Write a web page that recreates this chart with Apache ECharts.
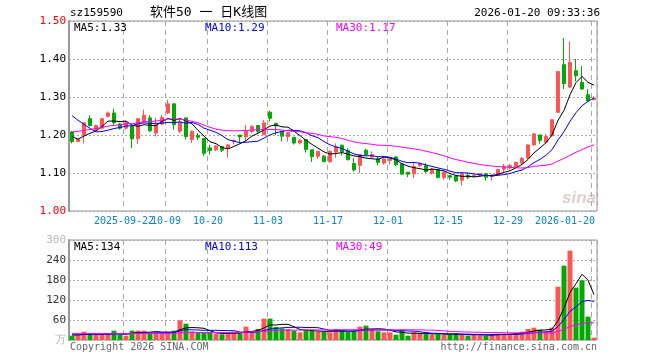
<!DOCTYPE html>
<html><head><meta charset="utf-8">
<script src="https://cdn.jsdelivr.net/npm/echarts@6/dist/echarts.min.js"></script>
<style>html,body{margin:0;padding:0;background:#fff}#c{width:660px;height:360px}</style>
</head><body><div id="c"></div>
<script>
// ---- data ----
const dates = ['2025-09-09','2025-09-10','2025-09-11','2025-09-12','2025-09-15','2025-09-16','2025-09-17','2025-09-18','2025-09-19','2025-09-22',
'2025-09-23','2025-09-24','2025-09-25','2025-09-26','2025-09-29','2025-09-30','2025-10-09','2025-10-10','2025-10-13','2025-10-14',
'2025-10-15','2025-10-16','2025-10-17','2025-10-20','2025-10-21','2025-10-22','2025-10-23','2025-10-24','2025-10-27','2025-10-28',
'2025-10-29','2025-10-30','2025-10-31','2025-11-03','2025-11-04','2025-11-05','2025-11-06','2025-11-07','2025-11-10','2025-11-11',
'2025-11-12','2025-11-13','2025-11-14','2025-11-17','2025-11-18','2025-11-19','2025-11-20','2025-11-21','2025-11-24','2025-11-25',
'2025-11-26','2025-11-27','2025-11-28','2025-12-01','2025-12-02','2025-12-03','2025-12-04','2025-12-05','2025-12-08','2025-12-09',
'2025-12-10','2025-12-11','2025-12-12','2025-12-15','2025-12-16','2025-12-17','2025-12-18','2025-12-19','2025-12-22','2025-12-23',
'2025-12-24','2025-12-25','2025-12-26','2025-12-29','2025-12-30','2025-12-31','2026-01-05','2026-01-06','2026-01-07','2026-01-08',
'2026-01-09','2026-01-12','2026-01-13','2026-01-14','2026-01-15','2026-01-16','2026-01-19','2026-01-20'];
const opens = [1.208,1.183,1.201,1.243,1.212,1.218,1.249,1.258,1.229,1.218, 1.223,1.19,1.234,1.245,1.205,1.229,1.258,1.282,1.21,1.245,
1.188,1.199,1.191,1.166,1.161,1.17,1.166,1.183,1.2,1.195, 1.209,1.225,1.201,1.26,1.23,1.209,1.196,1.194,1.179,1.188,
1.161,1.144,1.144,1.13,1.155,1.173,1.159,1.125,1.12,1.16, 1.142,1.137,1.126,1.133,1.142,1.124,1.102,1.098,1.119,1.119,
1.1,1.109,1.088,1.093,1.092,1.081,1.094,1.091,1.094,1.098, 1.091,1.094,1.11,1.113,1.116,1.126,1.139,1.174,1.2,1.181,
1.198,1.26,1.385,1.326,1.369,1.338,1.306,1.293];
const closes = [1.183,1.188,1.232,1.225,1.225,1.243,1.258,1.232,1.218,1.232, 1.19,1.243,1.252,1.211,1.227,1.246,1.282,1.227,1.234,1.196,
1.21,1.194,1.152,1.159,1.171,1.16,1.174,1.186,1.195,1.21, 1.222,1.21,1.232,1.244,1.224,1.197,1.206,1.179,1.186,1.162,
1.143,1.157,1.13,1.157,1.169,1.156,1.135,1.108,1.148,1.148, 1.148,1.128,1.137,1.137,1.122,1.097,1.097,1.117,1.124,1.104,
1.11,1.088,1.102,1.089,1.079,1.098,1.089,1.094,1.098,1.089, 1.095,1.109,1.117,1.12,1.128,1.139,1.174,1.203,1.186,1.196,
1.24,1.367,1.335,1.391,1.356,1.321,1.29,1.297];
const lows = [1.178,1.181,1.178,1.222,1.21,1.216,1.246,1.227,1.214,1.214, 1.166,1.176,1.231,1.208,1.196,1.226,1.255,1.214,1.205,1.188,
1.179,1.187,1.145,1.148,1.158,1.155,1.141,1.175,1.18,1.185, 1.205,1.205,1.2,1.235,1.2,1.183,1.183,1.175,1.175,1.154,
1.129,1.137,1.128,1.127,1.14,1.146,1.133,1.104,1.1,1.145, 1.139,1.12,1.122,1.122,1.119,1.096,1.089,1.086,1.116,1.1,
1.096,1.086,1.082,1.082,1.076,1.067,1.084,1.088,1.092,1.08, 1.08,1.092,1.099,1.109,1.114,1.124,1.137,1.172,1.177,1.179,
1.196,1.258,1.321,1.324,1.341,1.319,1.288,1.291];
const highs = [1.211,1.19,1.233,1.252,1.227,1.244,1.262,1.269,1.232,1.238, 1.227,1.244,1.267,1.252,1.245,1.253,1.293,1.282,1.245,1.245,
1.212,1.205,1.192,1.174,1.173,1.171,1.176,1.188,1.2,1.226, 1.226,1.226,1.24,1.264,1.233,1.209,1.208,1.194,1.189,1.188,
1.161,1.158,1.147,1.16,1.178,1.175,1.165,1.139,1.15,1.163, 1.157,1.144,1.139,1.139,1.144,1.126,1.102,1.126,1.128,1.126,
1.113,1.109,1.104,1.095,1.092,1.1,1.1,1.096,1.1,1.1, 1.097,1.111,1.124,1.124,1.13,1.142,1.175,1.205,1.2,1.203,
1.242,1.367,1.455,1.446,1.4,1.382,1.321,1.302];
const volumes = [13,13,25,21,16,16,16,28,16,13, 28,28,28,21,21,21,25,28,59,49,
26,21,21,21,19,17,21,25,19,40, 25,33,64,64,39,35,33,28,23,29,
29,25,24,23,33,29,24,26,40,43, 33,26,23,23,16,28,13,23,19,19,
16,19,16,16,19,16,13,16,16,13, 16,19,19,19,21,25,33,37,31,25,
37,160,223,268,157,179,70,7];
// closes / volumes before the visible window, estimated from where the MA lines start
const priorCloses = [1.14,1.15,1.15,1.16,1.15,1.16,1.17,1.16,1.17,1.18,1.17,1.18,1.18,1.19,1.18,1.19,
1.22,1.25,1.27,1.306,1.31,1.34,1.33,1.32,1.23,1.223,1.19,1.19,1.194];
const priorVolumes = [22,18,20,25,17,19,21,16,18,23,20,19,17,22,20,18,21,24,19,20,22,25,21,19,18,16,15,15,16];
const tickDates = ['2025-09-22','2025-10-09','2025-10-20','2025-11-03','2025-11-17','2025-12-01','2025-12-15','2025-12-29','2026-01-20'];
const tickTexts = ['2025-09-22','10-09','10-20','11-03','11-17','12-01','12-15','12-29','2026-01-20'];
const priceAxis = {min: 1.0, max: 1.5, step: 0.1};
const volAxis = {min: 0, max: 300, step: 60};
const priceMaLabels = ['MA5:1.33', 'MA10:1.29', 'MA30:1.17'];
const volMaLabels = ['MA5:134', 'MA10:113', 'MA30:49'];
const code = 'sz159590';
const titleText = '软件50 一 日K线图';
const timeText = '2026-01-20 09:33:36';

// ---- styling ----
const UP = '#ff5555', DOWN = '#00a800';
const MA_COLORS = ['#000000', '#0000ff', '#ff00ff'];
const MONO = '"DejaVu Sans Mono", monospace';

function movingAvg(n, vals, prior) {
  const all = prior.concat(vals);
  return vals.map((_, i) => {
    const end = prior.length + i;
    let s = 0;
    for (let k = end - n + 1; k <= end; k++) s += all[k];
    return +(s / n).toFixed(4);
  });
}
const isTick = (v) => tickDates.indexOf(v) >= 0;

const candleData = dates.map((d, i) => [opens[i], closes[i], lows[i], highs[i]]);
const volData = volumes.map((v, i) => ({value: v, itemStyle: {color: closes[i] >= opens[i] ? UP : DOWN}}));

const dashed = {show: true, interval: (idx, val) => isTick(val), lineStyle: {color: '#aaa', type: [5, 4], width: 1}};
const dotted = {show: true, lineStyle: {color: '#aaa', type: [2, 2], width: 1}};

function maSeries(name, n, vals, prior, color, xi, yi) {
  return {name, type: 'line', xAxisIndex: xi, yAxisIndex: yi, data: movingAvg(n, vals, prior),
    symbol: 'none', smooth: false, lineStyle: {color, width: 1}, z: 5, silent: true};
}

function txt(x, y, text, fill, font, align) {
  return {type: 'text', x, y, z: 100, silent: true,
    style: {text, fill, font, align: align || 'left', verticalAlign: 'middle'}};
}

const chart = echarts.init(document.getElementById('c'), null, {renderer: 'canvas'});
chart.setOption({
  animation: false,
  backgroundColor: '#fff',
  grid: [
    {left: 69, top: 21, width: 528, height: 190, show: true, borderColor: '#999', borderWidth: 1, outerBoundsMode: 'none', containLabel: false},
    {left: 69, top: 240, width: 528, height: 100, show: true, borderColor: '#999', borderWidth: 1, outerBoundsMode: 'none', containLabel: false}
  ],
  xAxis: [
    {type: 'category', gridIndex: 0, data: dates, boundaryGap: true,
     axisLine: {show: false}, axisTick: {show: false}, splitLine: dashed,
     axisLabel: {show: true, interval: 0, margin: 5, hideOverlap: false,
       formatter: (v) => {
         const k = tickDates.indexOf(v);
         if (k < 0) return '';
         return k === tickDates.length - 1 ? '{e|' + tickTexts[k] + '}' : '{n|' + tickTexts[k] + '}';
       },
       rich: {
         n: {color: '#0a84d6', fontFamily: MONO, fontSize: 10, padding: [0, 4, 0, 0]},
         e: {color: '#0a84d6', fontFamily: MONO, fontSize: 10, padding: [0, 58, 0, 0]}
       }}},
    {type: 'category', gridIndex: 1, data: dates, boundaryGap: true,
     axisLine: {show: false}, axisTick: {show: false}, axisLabel: {show: false}, splitLine: dashed}
  ],
  yAxis: [
    {type: 'value', gridIndex: 0, min: priceAxis.min, max: priceAxis.max, interval: priceAxis.step,
     axisLine: {show: true, lineStyle: {color: '#999', width: 2}}, axisTick: {show: false}, splitLine: dotted,
     axisLabel: {margin: 3, fontFamily: MONO, fontSize: 11, showMinLabel: true, showMaxLabel: true,
       formatter: (v) => Number(v).toFixed(2),
       color: (v) => (Math.abs(Number(v) - priceAxis.max) < 1e-6 || Math.abs(Number(v) - priceAxis.min) < 1e-6) ? '#ff0000' : '#000000'}},
    {type: 'value', gridIndex: 1, min: volAxis.min, max: volAxis.max, interval: volAxis.step,
     axisLine: {show: true, lineStyle: {color: '#999', width: 2}}, axisTick: {show: false}, splitLine: dotted,
     axisLabel: {margin: 3, fontFamily: MONO, fontSize: 11, showMinLabel: true, showMaxLabel: true,
       formatter: (v) => Number(v) === 0 ? '万' : String(v),
       color: (v) => (Number(v) === volAxis.max || Number(v) === 0) ? '#bbbbbb' : '#333333'}}
  ],
  series: [
    {type: 'candlestick', xAxisIndex: 0, yAxisIndex: 0, data: candleData, barWidth: 4, z: 3,
     itemStyle: {color: UP, color0: DOWN, borderColor: UP, borderColor0: DOWN, borderWidth: 1}},
    maSeries('MA5', 5, closes, priorCloses, MA_COLORS[0], 0, 0),
    maSeries('MA10', 10, closes, priorCloses, MA_COLORS[1], 0, 0),
    maSeries('MA30', 30, closes, priorCloses, MA_COLORS[2], 0, 0),
    {type: 'bar', xAxisIndex: 1, yAxisIndex: 1, data: volData, barWidth: 5, z: 3},
    maSeries('VMA5', 5, volumes, priorVolumes, MA_COLORS[0], 1, 1),
    maSeries('VMA10', 10, volumes, priorVolumes, MA_COLORS[1], 1, 1),
    maSeries('VMA30', 30, volumes, priorVolumes, MA_COLORS[2], 1, 1)
  ],
  graphic: [
    txt(70, 13, code, '#000', '11px ' + MONO),
    txt(150, 13, titleText, '#000', '13px "DejaVu Sans Mono", "Noto Sans CJK SC"'),
    txt(600, 13, timeText, '#000', '11px ' + MONO, 'right'),
    txt(74, 28, priceMaLabels[0], MA_COLORS[0], '11px ' + MONO),
    txt(205, 28, priceMaLabels[1], MA_COLORS[1], '11px ' + MONO),
    txt(336, 28, priceMaLabels[2], MA_COLORS[2], '11px ' + MONO),
    txt(74, 247, volMaLabels[0], MA_COLORS[0], '11px ' + MONO),
    txt(205, 247, volMaLabels[1], MA_COLORS[1], '11px ' + MONO),
    txt(336, 247, volMaLabels[2], MA_COLORS[2], '11px ' + MONO),
    txt(70, 347, 'Copyright 2026 SINA.COM', '#666', '10px ' + MONO),
    txt(597, 347, 'http://finance.sina.com.cn', '#666', '10px ' + MONO, 'right'),
    txt(596, 198, 'sina', 'rgba(190,170,170,0.55)', 'italic bold 17px "Liberation Sans"', 'right')
  ]
});
</script>
</body></html>
